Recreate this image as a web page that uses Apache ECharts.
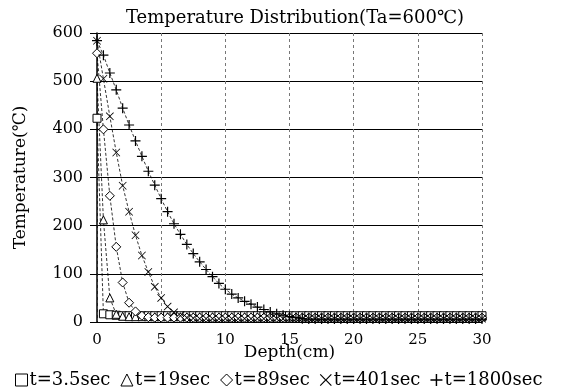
<!DOCTYPE html>
<html>
<head>
<meta charset="utf-8">
<script src="https://cdn.jsdelivr.net/npm/echarts@6/dist/echarts.min.js"></script>
<style>
  html, body { margin: 0; padding: 0; background: #fff; }
  #chart { width: 563px; height: 391px; }
</style>
</head>
<body>
<div id="chart"></div>
<script>
// depth in cm (0.5 cm step)
const depth = [
  0, 0.5, 1, 1.5, 2, 2.5, 3, 3.5, 4, 4.5, 5, 5.5, 6, 6.5, 7, 7.5, 8, 8.5, 9, 9.5,
  10, 10.5, 11, 11.5, 12, 12.5, 13, 13.5, 14, 14.5, 15, 15.5, 16, 16.5, 17, 17.5, 18, 18.5, 19, 19.5,
  20, 20.5, 21, 21.5, 22, 22.5, 23, 23.5, 24, 24.5, 25, 25.5, 26, 26.5, 27, 27.5, 28, 28.5, 29, 29.5, 30
];

// temperature (°C) per time step
const t3_5 = [
  423, 17, 15, 14, 13, 13, 13, 13, 13, 13, 13, 13, 13, 13, 13, 13, 13, 13, 13, 13,
  13, 13, 13, 13, 13, 13, 13, 13, 13, 13, 13, 13, 13, 13, 13, 13, 13, 13, 13, 13,
  13, 13, 13, 13, 13, 13, 13, 13, 13, 13, 13, 13, 13, 13, 13, 13, 13, 13, 13, 13, 13
];
const t19 = [
  506, 212, 50, 16, 12, 11, 11, 11, 11, 11, 11, 11, 11, 11, 11, 11, 11, 11, 11, 11,
  11, 11, 11, 11, 11, 11, 11, 11, 11, 11, 11, 11, 11, 11, 11, 11, 11, 11, 11, 11,
  11, 11, 11, 11, 11, 11, 11, 11, 11, 11, 11, 11, 11, 11, 11, 11, 11, 11, 11, 11, 11
];
const t89 = [
  558, 400, 262, 156, 82, 40, 22, 13, 10, 9, 9, 9, 9, 9, 9, 9, 9, 9, 9, 9,
  9, 9, 9, 9, 9, 9, 9, 9, 9, 9, 9, 9, 9, 9, 9, 9, 9, 9, 9, 9,
  9, 9, 9, 9, 9, 9, 9, 9, 9, 9, 9, 9, 9, 9, 9, 9, 9, 9, 9, 9, 9
];
const t401 = [
  584, 505, 427, 352, 283, 229, 180, 138, 104, 73, 50, 32, 20, 13, 9, 8, 7, 7, 7, 7,
  7, 7, 7, 7, 7, 7, 7, 7, 7, 7, 7, 7, 7, 7, 7, 7, 7, 7, 7, 7,
  7, 7, 7, 7, 7, 7, 7, 7, 7, 7, 7, 7, 7, 7, 7, 7, 7, 7, 7, 7, 7
];
const t1800 = [
  584, 554, 517, 482, 444, 409, 376, 344, 313, 284, 256, 229, 204, 182, 161, 142, 125, 109, 94, 80,
  68, 58, 50, 43, 37, 31, 26, 21, 17, 14, 11, 9, 7, 6, 6, 6, 6, 6, 6, 6,
  6, 6, 6, 6, 6, 6, 6, 6, 6, 6, 6, 6, 6, 6, 6, 6, 6, 6, 6, 6, 6
];

const xTicks = [0, 5, 10, 15, 20, 25, 30];
const yTicks = [0, 100, 200, 300, 400, 500, 600];

const seriesNames = ['t=3.5sec', 't=19sec', 't=89sec', 't=401sec', 't=1800sec'];

// marker shapes (thin strokes)
const PLUS = 'path://M4.4,0L5.6,0L5.6,4.4L10,4.4L10,5.6L5.6,5.6L5.6,10L4.4,10L4.4,5.6L0,5.6L0,4.4L4.4,4.4Z';
const CROSS = 'path://M0,0.7L0.7,0L5,4.3L9.3,0L10,0.7L5.7,5L10,9.3L9.3,10L5,5.7L0.7,10L0,9.3L4.3,5Z';

const FONT = '"DejaVu Serif", "Liberation Serif", serif';

const chart = echarts.init(document.getElementById('chart'));

function pairs(values) {
  return depth.map((d, i) => [d, values[i]]);
}

function makeSeries(name, values, symbol, size, hollow) {
  return {
    name: name,
    type: 'line',
    data: pairs(values),
    symbol: symbol,
    symbolSize: size,
    showAllSymbol: true,
    lineStyle: { color: '#000', width: 0.8, type: [3, 2] },
    itemStyle: hollow
      ? { color: '#fff', borderColor: '#000', borderWidth: 1 }
      : { color: '#000', borderWidth: 0 },
    emphasis: { disabled: true }
  };
}

const option = {
  animation: false,
  backgroundColor: '#fff',
  title: {
    text: 'Temperature Distribution(Ta=600℃)',
    left: 290,
    textAlign: 'center',
    top: 4,
    textStyle: { fontFamily: FONT, fontSize: 18, fontWeight: 'normal', color: '#000' }
  },
  legend: {
    left: 10,
    top: 366,
    itemWidth: 12,
    itemHeight: 12,
    itemGap: 10,
    itemStyle: { borderWidth: 1 },
    textStyle: { fontFamily: FONT, fontSize: 18, color: '#000', padding: [0, 0, 0, -3] },
    data: [
      { name: seriesNames[0], icon: 'rect' },
      { name: seriesNames[1], icon: 'triangle' },
      { name: seriesNames[2], icon: 'diamond' },
      { name: seriesNames[3], icon: CROSS },
      { name: seriesNames[4], icon: PLUS }
    ]
  },
  grid: { left: 97, right: 81, top: 33, bottom: 69 },
  xAxis: {
    type: 'value',
    min: 0,
    max: 30,
    interval: 5,
    name: 'Depth(cm)',
    nameLocation: 'middle',
    nameGap: 22,
    nameMoveOverlap: false,
    nameTextStyle: { fontFamily: FONT, fontSize: 17, color: '#000', verticalAlign: 'top' },
    axisLine: { lineStyle: { color: '#000', width: 1 } },
    axisTick: { show: false },
    axisLabel: { margin: 11, fontFamily: FONT, fontSize: 15, color: '#000',
      formatter: v => (xTicks.includes(v) ? String(v) : '') },
    splitLine: { show: true, lineStyle: { color: '#777', width: 1, type: [3, 3] } }
  },
  yAxis: {
    type: 'value',
    min: 0,
    max: 600,
    interval: 100,
    name: 'Temperature(℃)',
    nameLocation: 'middle',
    nameRotate: 90,
    nameGap: 68,
    nameMoveOverlap: false,
    nameTextStyle: { fontFamily: FONT, fontSize: 17, color: '#000' },
    axisLine: { show: true, lineStyle: { color: '#000', width: 1.5 } },
    axisTick: { show: true, length: 7, lineStyle: { color: '#000' } },
    axisLabel: { margin: 14, fontFamily: FONT, fontSize: 16, color: '#000',
      formatter: v => (yTicks.includes(v) ? String(v) : '') },
    splitLine: { show: true, lineStyle: { color: '#000', width: 1.2 } }
  },
  series: [
    makeSeries(seriesNames[0], t3_5, 'rect', 8, true),
    makeSeries(seriesNames[1], t19, 'triangle', 8, true),
    makeSeries(seriesNames[2], t89, 'diamond', 9, true),
    makeSeries(seriesNames[3], t401, CROSS, 8, false),
    makeSeries(seriesNames[4], t1800, PLUS, 10, false)
  ]
};

chart.setOption(option);
</script>
</body>
</html>
